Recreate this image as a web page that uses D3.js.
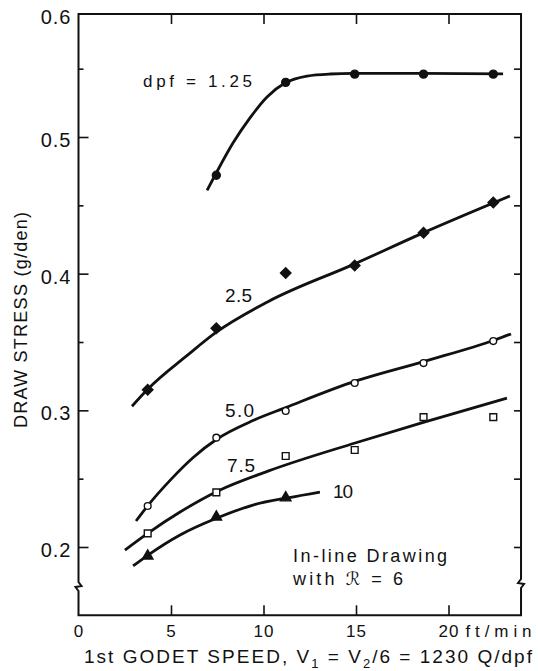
<!DOCTYPE html>
<html><head><meta charset="utf-8">
<script src="https://cdn.jsdelivr.net/npm/d3@7"></script>
<style>
html,body{margin:0;padding:0;background:#fff}
svg{display:block}
text{font-family:"Liberation Sans",Arial,sans-serif;fill:#111}
</style>
</head><body><div id="chart"></div>
<script>
// ---- data ----
const speeds = [3.74, 7.45, 11.2, 14.93, 18.65, 22.42];           // ft/min
const dpf125 = [null, 0.472, 0.540, 0.546, 0.546, 0.546];
const dpf25  = [0.315, 0.360, 0.4005, 0.406, 0.430, 0.452];
const dpf50  = [0.230, 0.280, 0.2995, 0.320, 0.3346, 0.3507];
const dpf75  = [0.210, 0.240, 0.2666, 0.271, 0.295, 0.295];
const dpf10  = [0.1934, 0.222, 0.236];

// hand-drawn smooth curves [speed, stress]
const fit125 = [[6.95,0.461],[7.38,0.472],[8.35,0.4956],[9.27,0.514],[10.19,0.5293],[11.16,0.5395],[12.35,0.5446],[13.6,0.5461],[14.84,0.5465],[18.6,0.5465],[22.95,0.5462]];
const fit25  = [[2.89,0.303],[3.7,0.3149],[5.86,0.340],[7.43,0.357],[10.24,0.3795],[14.9,0.407],[18.57,0.4295],[23.32,0.4568]];
const fit50  = [[3.11,0.219],[3.76,0.2305],[5.0,0.2495],[6.2,0.2655],[7.49,0.2790],[9.43,0.2925],[11.2,0.302],[15.0,0.3215],[18.73,0.336],[22.5,0.3515],[23.38,0.3559]];
const fit75  = [[2.51,0.1978],[3.76,0.2102],[5.49,0.2256],[7.54,0.241],[10.24,0.2555],[14.95,0.2761],[18.73,0.2915],[23.16,0.309]];
const fit10  = [[2.95,0.1861],[3.76,0.1941],[5.49,0.2088],[7.49,0.2212],[9.43,0.2307],[11.4,0.2362],[13.05,0.2402]];

const xTicks = [0, 5, 10, 15, 20];
const yMajor = [0.2, 0.3, 0.4, 0.5, 0.6];
const yMinor = [0.25, 0.35, 0.45, 0.55];
const yRight = [0.2, 0.25, 0.3, 0.35, 0.4, 0.45, 0.5, 0.55];

const curveLabels = ["dpf  =  1.25", "2.5", "5.0", "7.5", "10"];

// ---- layout ----
const W = 538, H = 671;
const xMax = 23.92, yTopVal = 0.59, yBotVal = 0.15;
const x = d3.scaleLinear().domain([0, 20]).range([78.5, 78.5 + 18.5 * 20]);
const y = d3.scaleLinear().domain([0.2, 0.5]).range([547, 137]);

const svg = d3.select("#chart").append("svg").attr("width", W).attr("height", H);
svg.append("rect").attr("width", W).attr("height", H).attr("fill", "#fff");

const L = x(0), R = x(xMax), T = y(yTopVal), B = y(yBotVal);
const ink = "#111";

// frame with axis breaks
const bl = 586, br = 583;
svg.append("path")
  .attr("d", `M${L},${T}H${R}V${br-4}L${R-3},${br}L${R+3},${br+1}L${R},${br+5}V${B}H${L}V${bl+5}L${L-3},${bl+1}L${L+3},${bl}L${L},${bl-4}Z`)
  .attr("fill", "none").attr("stroke", ink).attr("stroke-width", 2).attr("stroke-linejoin", "miter");

// left axis: major (labelled) and minor ticks, pointing inward
const gL = svg.append("g").attr("transform", `translate(${L},0)`)
  .call(d3.axisLeft(y).tickValues(yMajor).tickSizeInner(-10).tickSizeOuter(0).tickPadding(7).tickFormat(d3.format(".1f")));
gL.select(".domain").remove();
gL.selectAll("line").attr("stroke", ink).attr("stroke-width", 1.6);
gL.selectAll("text").attr("font-size", 20).attr("letter-spacing", 1).attr("dy", "0.48em").attr("fill", ink);
gL.selectAll(".tick").filter(d => d === 0.6)
  .attr("transform", `translate(0,${T})`)
  .call(t => t.select("line").remove());

const gLm = svg.append("g").attr("transform", `translate(${L},0)`)
  .call(d3.axisLeft(y).tickValues(yMinor).tickSizeInner(-5).tickSizeOuter(0).tickFormat(""));
gLm.select(".domain").remove();
gLm.selectAll("line").attr("stroke", ink).attr("stroke-width", 1.6);

// right axis ticks
const gR = svg.append("g").attr("transform", `translate(${R},0)`)
  .call(d3.axisRight(y).tickValues(yRight).tickSizeInner(-7).tickSizeOuter(0).tickFormat(""));
gR.select(".domain").remove();
gR.selectAll("line").attr("stroke", ink).attr("stroke-width", 1.6);

// bottom axis
const gB = svg.append("g").attr("transform", `translate(0,${B})`)
  .call(d3.axisBottom(x).tickValues(xTicks).tickSizeInner(-10).tickSizeOuter(0).tickPadding(10).tickFormat(d3.format("d")));
gB.select(".domain").remove();
gB.selectAll("line").attr("stroke", ink).attr("stroke-width", 1.6);
gB.selectAll(".tick").filter(d => d === 0).select("line").remove();
gB.selectAll("text").attr("font-size", 17).attr("letter-spacing", 1).attr("fill", ink);
gB.append("text").attr("x", x(20) + 17).attr("y", 10).attr("dy", "0.71em")
  .attr("text-anchor", "start").attr("textLength", 66).attr("lengthAdjust", "spacing")
  .attr("font-size", 17).attr("fill", ink).text("ft/min");

// top axis ticks
const gT = svg.append("g").attr("transform", `translate(0,${T})`)
  .call(d3.axisTop(x).tickValues(xTicks.filter(d => d > 0)).tickSizeInner(-10).tickSizeOuter(0).tickFormat(""));
gT.select(".domain").remove();
gT.selectAll("line").attr("stroke", ink).attr("stroke-width", 1.6);

// axis titles
const xt = svg.append("text").attr("x", 84).attr("y", 663).attr("font-size", 19)
  .attr("textLength", 448).attr("lengthAdjust", "spacing");
xt.append("tspan").text("1st GODET SPEED, V");
xt.append("tspan").attr("dy", 5).attr("font-size", 13).text("1");
xt.append("tspan").attr("dy", -5).text(" = V");
xt.append("tspan").attr("dy", 5).attr("font-size", 13).text("2");
xt.append("tspan").attr("dy", -5).text("/6 = 1230 Q/dpf");

svg.append("text").attr("transform", "translate(26.5,428) rotate(-90)")
  .attr("font-size", 18).attr("textLength", 216).attr("lengthAdjust", "spacing")
  .text("DRAW STRESS (g/den)");

// curves
const line = d3.line().x(d => x(d[0])).y(d => y(d[1])).curve(d3.curveMonotoneX);
[fit125, fit25, fit50, fit75, fit10].forEach(f => {
  svg.append("path").attr("d", line(f)).attr("fill", "none")
    .attr("stroke", ink).attr("stroke-width", 2.8).attr("stroke-linecap", "butt");
});

// markers
const diamond = { draw(ctx, s) { const r = Math.sqrt(s) / 2; ctx.moveTo(0, -r); ctx.lineTo(r, 0); ctx.lineTo(0, r); ctx.lineTo(-r, 0); ctx.closePath(); } };
const series = [
  { v: dpf125, sym: d3.symbolCircle, size: 50, fill: ink },
  { v: dpf25, sym: diamond, size: 110, fill: ink },
  { v: dpf50, sym: d3.symbolCircle, size: 36, fill: "#fff" },
  { v: dpf75, sym: d3.symbolSquare, size: 46, fill: "#fff" },
  { v: dpf10, sym: d3.symbolTriangle, size: 48, fill: ink }
];
series.forEach(s => {
  const pts = s.v.map((v, i) => [speeds[i], v]).filter(p => p[1] != null);
  svg.append("g").selectAll("path").data(pts).join("path")
    .attr("transform", d => `translate(${x(d[0])},${y(d[1])})`)
    .attr("d", d3.symbol().type(s.sym).size(s.size))
    .attr("fill", s.fill).attr("stroke", ink).attr("stroke-width", 1.4);
});

// curve labels
const labelPos = [[3.49, 0.5366, 109, 17], [7.92, 0.3793, 27, 19], [7.92, 0.2951, 29, 19], [8.03, 0.2549, 28, 19], [13.76, 0.2359, 20, 19]];
curveLabels.forEach((t, i) => {
  const p = labelPos[i];
  svg.append("text").attr("x", x(p[0])).attr("y", y(p[1])).attr("font-size", p[3])
    .attr("textLength", p[2]).attr("lengthAdjust", "spacing").text(t);
});

// note
svg.append("text").attr("x", x(11.6)).attr("y", y(0.189)).attr("font-size", 18)
  .attr("textLength", 154).attr("lengthAdjust", "spacing").text("In-line Drawing");
const n2 = svg.append("text").attr("x", x(11.6)).attr("y", y(0.1722)).attr("font-size", 18)
  .attr("textLength", 110).attr("lengthAdjust", "spacing");
n2.append("tspan").text("with  ");
n2.append("tspan").attr("font-family", "DejaVu Sans").attr("font-style", "italic").text("ℛ");
n2.append("tspan").text("  =  6");
</script>
</body></html>
